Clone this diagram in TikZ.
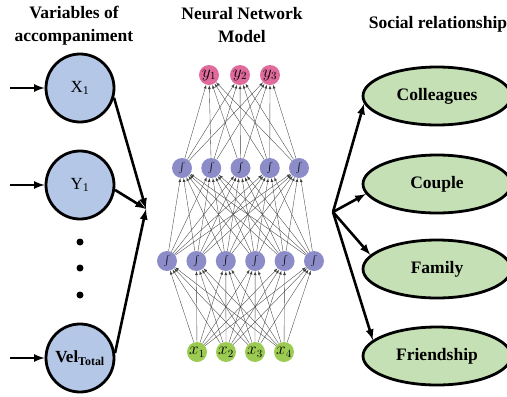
\documentclass[tikz,border=0pt]{standalone}
\usepackage{fontspec}
\setmainfont{Liberation Serif}
\usetikzlibrary{shapes.geometric}

\definecolor{varblue}{HTML}{B4C7E7}
\definecolor{relgreen}{HTML}{C5E0B4}
\definecolor{outpink}{HTML}{E06A9C}
\definecolor{hidblue}{HTML}{8C8CC8}
\definecolor{ingreen}{HTML}{9BCB52}

\begin{document}
\begin{tikzpicture}[x=1pt,y=-1pt,>=latex,
    var/.style={circle,draw,line width=2.8pt,fill=varblue,minimum size=68pt,inner sep=0pt,font=\fontsize{17}{19}\selectfont},
    rel/.style={ellipse,draw,line width=2.8pt,fill=relgreen,minimum width=148pt,minimum height=58pt,inner sep=0pt,font=\bfseries\fontsize{17.5}{20}\selectfont},
    title/.style={align=center,font=\bfseries\fontsize{17.5}{23}\selectfont},
    unit/.style={circle,minimum size=20pt,inner sep=0pt,font=\fontsize{16}{18}\selectfont},
    dot/.style={circle,fill,minimum size=7pt,inner sep=0pt},
    big/.style={->,line width=2.6pt},
    net/.style={->,line width=0.35pt,black!75}]

\useasboundingbox (0,0) rectangle (507,397);

% titles
\node [title] (t1) at (74,26) {Variables of\\accompaniment};
\node [title] (t2) at (242,25) {Neural Network\\Model};
\node [title] (t3) at (438,24) {Social relationship};

% variables
\node [var] (x1) at (80,88) {X\textsubscript{1}};
\node [var] (y1) at (80,185) {Y\textsubscript{1}};
\node [var] (vel) at (80,358) {\textbf{Vel\textsubscript{Total}}};

\node [dot] (d1) at (80,242) {};
\node [dot] (d2) at (80,268) {};
\node [dot] (d3) at (80,295) {};

\coordinate (x1in) at (10,88);
\coordinate (y1in) at (10,185);
\coordinate (velin) at (10,358);
\coordinate (lhub) at (146,209);
\coordinate (rhub) at (333,212);

\draw [big] (x1in) -- (x1);
\draw [big] (y1in) -- (y1);
\draw [big] (velin) -- (vel);
\draw [big] (x1.-16) -- (lhub);
\draw [big] (y1.-8) -- (lhub);
\draw [big] (vel.8) -- (lhub);

% network
\foreach \i/\x in {1/197,2/226,3/255,4/284}
    \node [unit,fill=ingreen] (in\i) at (\x,352) {$x_{\i}$};
\foreach \i in {1,...,6}
    \node [unit,fill=hidblue,font=\fontsize{11}{12}\selectfont] (ha\i) at ({167+29.4*(\i-1)},261) {$\int$};
\foreach \i in {1,...,5}
    \node [unit,fill=hidblue,font=\fontsize{11}{12}\selectfont] (hb\i) at ({182+29.25*(\i-1)},168) {$\int$};
\foreach \i/\x in {1/209,2/240,3/270}
    \node [unit,fill=outpink] (out\i) at (\x,75) {$y_{\i}$};

\foreach \i in {1,...,4}
    \foreach \j in {1,...,6}
        \draw [net] (in\i) -- (ha\j);
\foreach \i in {1,...,6}
    \foreach \j in {1,...,5}
        \draw [net] (ha\i) -- (hb\j);
\foreach \i in {1,...,5}
    \foreach \j in {1,...,3}
        \draw [net] (hb\i) -- (out\j);

% relationships
\node [rel] (coll) at (437,96) {Colleagues};
\node [rel] (coup) at (437,184) {Couple};
\node [rel] (fam) at (437,269) {Family};
\node [rel] (fri) at (437,356) {Friendship};

\draw [big] (rhub) -- (coll.186);
\draw [big] (rhub) -- (coup.188);
\draw [big] (rhub) -- (fam.168);
\draw [big] (rhub) -- (fri.166);

\end{tikzpicture}
\end{document}
